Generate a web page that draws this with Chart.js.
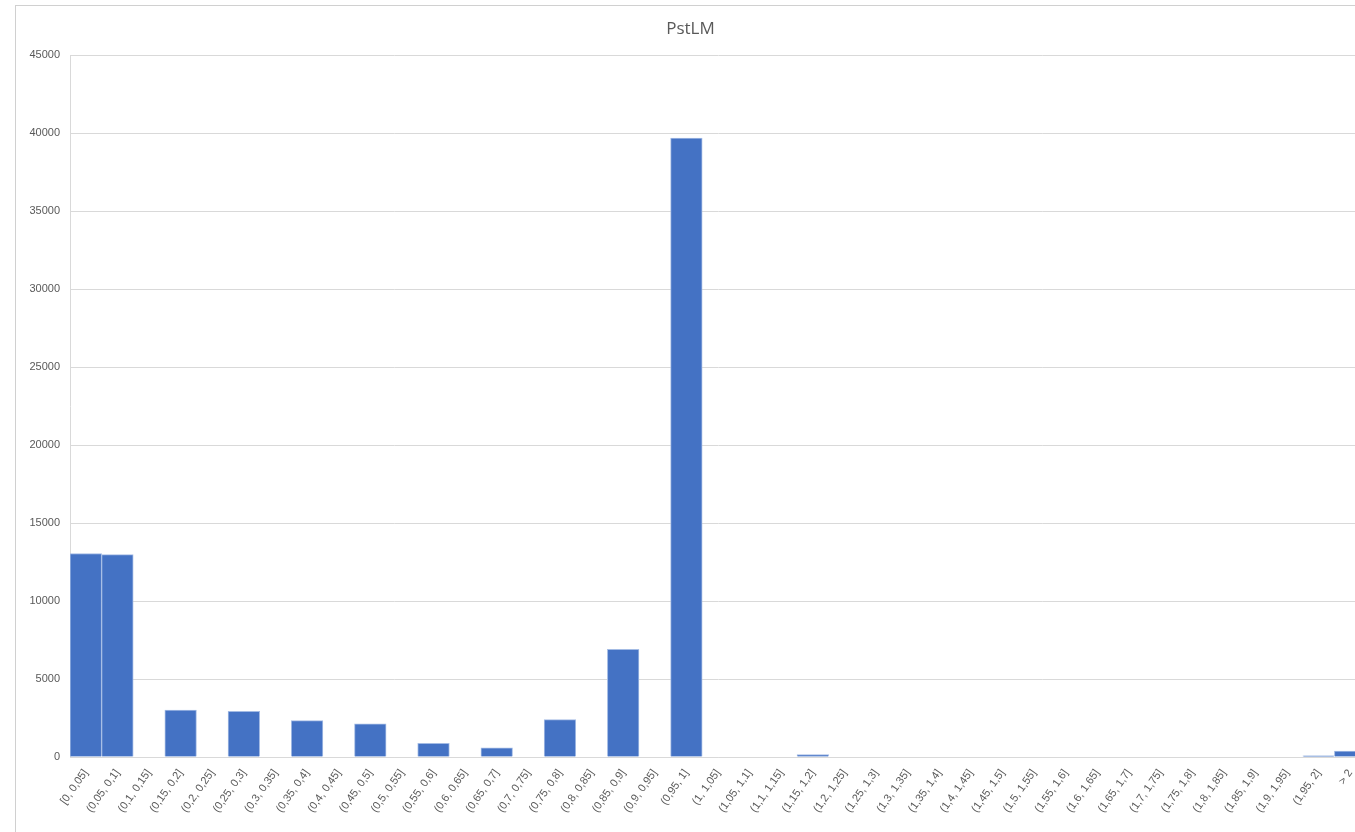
<!DOCTYPE html>
<html>
<head>
<meta charset="utf-8">
<script src="https://cdn.jsdelivr.net/npm/chart.js@4/dist/chart.umd.min.js"></script>
<style>
  html, body { margin: 0; padding: 0; background: #fff; overflow: hidden; width: 1355px; height: 832px; }
  .frame { position: absolute; left: 15px; top: 5px; width: 1400px; height: 900px; border: 1px solid #d0d0d0; }
  .wrap { position: absolute; left: 0; top: 0; width: 1380px; height: 850px; }
</style>
</head>
<body>
<div class="frame"></div>
<div class="wrap"><canvas id="hist"></canvas></div>
<script>
// bins of the histogram
const bins = [
  '[0, 0,05]', '(0,05, 0,1]', '(0,1, 0,15]', '(0,15, 0,2]', '(0,2, 0,25]',
  '(0,25, 0,3]', '(0,3, 0,35]', '(0,35, 0,4]', '(0,4, 0,45]', '(0,45, 0,5]',
  '(0,5, 0,55]', '(0,55, 0,6]', '(0,6, 0,65]', '(0,65, 0,7]', '(0,7, 0,75]',
  '(0,75, 0,8]', '(0,8, 0,85]', '(0,85, 0,9]', '(0,9, 0,95]', '(0,95, 1]',
  '(1, 1,05]', '(1,05, 1,1]', '(1,1, 1,15]', '(1,15, 1,2]', '(1,2, 1,25]',
  '(1,25, 1,3]', '(1,3, 1,35]', '(1,35, 1,4]', '(1,4, 1,45]', '(1,45, 1,5]',
  '(1,5, 1,55]', '(1,55, 1,6]', '(1,6, 1,65]', '(1,65, 1,7]', '(1,7, 1,75]',
  '(1,75, 1,8]', '(1,8, 1,85]', '(1,85, 1,9]', '(1,9, 1,95]', '(1,95, 2]',
  '> 2'
];
// counts per bin
const counts = [
  13050, 12980, 0, 3010, 0,
  2930, 0, 2330, 0, 2120,
  0, 880, 0, 590, 0,
  2400, 0, 6900, 0, 39700,
  0, 0, 0, 160, 0,
  0, 0, 0, 0, 0,
  0, 0, 0, 0, 0,
  0, 0, 0, 0, 70,
  380
];
const yMax = 45000;
const yStep = 5000;

const textCol = '#595959';
const gridCol = '#d9d9d9';

var ctx = document.getElementById('hist').getContext('2d');
var histChart = new Chart(ctx, {
  type: 'bar',
  data: {
    labels: bins,
    datasets: [{
      label: 'PstLM',
      data: counts,
      backgroundColor: '#4472C4',
      borderColor: '#a3bbe4',
      borderWidth: 1,
      barPercentage: 1,
      categoryPercentage: 1
    }]
  },
  options: {
    responsive: true,
    maintainAspectRatio: false,
    animation: false,
    layout: { padding: { left: 15, right: 14, top: 5, bottom: 0 } },
    plugins: {
      legend: { display: false },
      tooltip: { enabled: false },
      title: {
        display: true,
        text: 'PstLM',
        color: textCol,
        font: { family: 'Open Sans', size: 17, weight: 'normal' },
        padding: { top: 14, bottom: 16 }
      }
    },
    scales: {
      x: {
        grid: { display: false },
        border: { display: true, color: gridCol },
        ticks: {
          color: textCol,
          font: { family: 'Liberation Sans', size: 11 },
          minRotation: 55,
          maxRotation: 55,
          autoSkip: false,
          padding: 2
        },
        afterFit: function(scale) { scale.height = 93; }
      },
      y: {
        min: 0,
        max: yMax,
        grid: { color: gridCol, drawTicks: false },
        border: { display: true, color: gridCol },
        ticks: {
          stepSize: yStep,
          color: textCol,
          font: { family: 'Liberation Sans', size: 11 },
          padding: 10,
          callback: function(v) { return String(v); }
        },
        afterFit: function(scale) { scale.width = 55; }
      }
    }
  }
});
</script>
</body>
</html>
